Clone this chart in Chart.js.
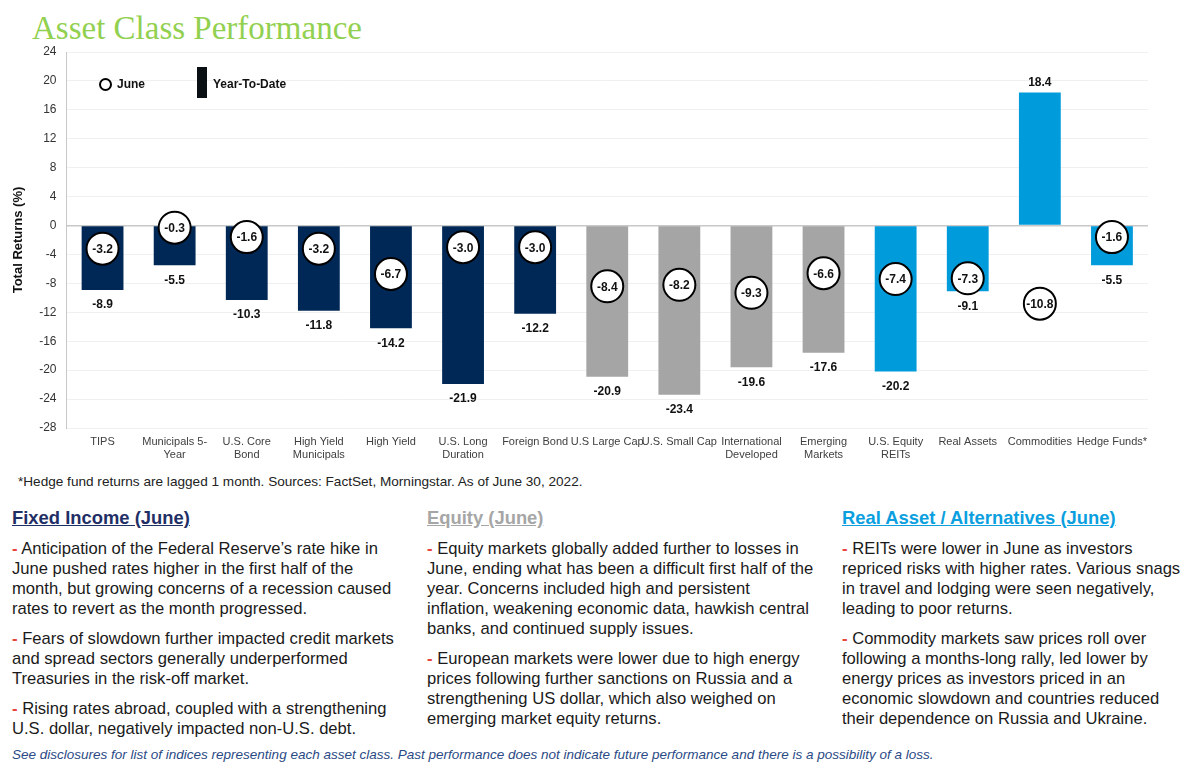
<!DOCTYPE html>
<html>
<head>
<meta charset="utf-8">
<script src="https://cdn.jsdelivr.net/npm/chart.js@4.4.0/dist/chart.umd.min.js"></script>
<style>
  body { margin: 0; width: 1200px; height: 771px; background: #fff; font-family: Arial, "Liberation Sans", sans-serif; position: relative; overflow: hidden; }
  #title { position: absolute; left: 32px; top: 10px; font-family: "Liberation Serif", "DejaVu Serif", serif; font-size: 33px; color: #92d050; white-space: nowrap; }
  #chartBox { position: absolute; left: 0; top: 34px; width: 1200px; height: 438px; }
  .legend { position: absolute; font-size: 12px; font-weight: bold; color: #111; white-space: nowrap; }
  .legCircle { position: absolute; left: 99px; top: 78px; width: 9px; height: 9px; border: 2px solid #000; border-radius: 50%; }
  .legRect { position: absolute; left: 197px; top: 67px; width: 10px; height: 31px; background: #0a0f14; }
  #foot { position: absolute; left: 18px; top: 474px; font-size: 13.6px; color: #222; white-space: nowrap; }
  .col { position: absolute; top: 506px; font-size: 16.6px; line-height: 20px; color: #1a1a1a; white-space: nowrap; }
  .col h3 { margin: 0 0 9px 0; font-size: 18.4px; font-weight: bold; text-decoration: underline; line-height: 24px; }
  .col p { margin: 0 0 10px 0; }
  .dash { color: #e8463c; font-weight: bold; }
  #disc { position: absolute; left: 12px; top: 747px; font-size: 13.5px; font-style: italic; color: #2a4a85; white-space: nowrap; }
</style>
</head>
<body>
<div id="title">Asset Class Performance</div>
<div id="chartBox"><canvas id="perfChart"></canvas></div>
<div class="legCircle"></div>
<div class="legend" style="left:117px; top:77px;">June</div>
<div class="legRect"></div>
<div class="legend" style="left:213px; top:77px;">Year-To-Date</div>

<div id="foot">*Hedge fund returns are lagged 1 month. Sources: FactSet, Morningstar. As of June 30, 2022.</div>

<div class="col" style="left:12px;">
  <h3 style="color:#1f2f66;">Fixed Income (June)</h3>
  <p><span class="dash">-</span> Anticipation of the Federal Reserve’s rate hike in<br>June pushed rates higher in the first half of the<br>month, but growing concerns of a recession caused<br>rates to revert as the month progressed.</p>
  <p><span class="dash">-</span> Fears of slowdown further impacted credit markets<br>and spread sectors generally underperformed<br>Treasuries in the risk-off market.</p>
  <p><span class="dash">-</span> Rising rates abroad, coupled with a strengthening<br>U.S. dollar, negatively impacted non-U.S. debt.</p>
</div>
<div class="col" style="left:427px;">
  <h3 style="color:#a6a6a6;">Equity (June)</h3>
  <p><span class="dash">-</span> Equity markets globally added further to losses in<br>June, ending what has been a difficult first half of the<br>year. Concerns included high and persistent<br>inflation, weakening economic data, hawkish central<br>banks, and continued supply issues.</p>
  <p><span class="dash">-</span> European markets were lower due to high energy<br>prices following further sanctions on Russia and a<br>strengthening US dollar, which also weighed on<br>emerging market equity returns.</p>
</div>
<div class="col" style="left:842px;">
  <h3 style="color:#0b9fe0;">Real Asset / Alternatives (June)</h3>
  <p><span class="dash">-</span> REITs were lower in June as investors<br>repriced risks with higher rates. Various snags<br>in travel and lodging were seen negatively,<br>leading to poor returns.</p>
  <p><span class="dash">-</span> Commodity markets saw prices roll over<br>following a months-long rally, led lower by<br>energy prices as investors priced in an<br>economic slowdown and countries reduced<br>their dependence on Russia and Ukraine.</p>
</div>

<div id="disc">See disclosures for list of indices representing each asset class. Past performance does not indicate future performance and there is a possibility of a loss.</div>

<script>
// categories and values
const categories = [
    'TIPS', ['Municipals 5-', 'Year'], ['U.S. Core', 'Bond'], ['High Yield', 'Municipals'], 'High Yield',
    ['U.S. Long', 'Duration'], 'Foreign Bond', 'U.S Large Cap', 'U.S. Small Cap', ['International', 'Developed'],
    ['Emerging', 'Markets'], ['U.S. Equity', 'REITs'], 'Real Assets', 'Commodities', 'Hedge Funds*'
];
const ytdReturns = [-8.9, -5.5, -10.3, -11.8, -14.2, -21.9, -12.2, -20.9, -23.4, -19.6, -17.6, -20.2, -9.1, 18.4, -5.5];
const juneReturns = [-3.2, -0.3, -1.6, -3.2, -6.7, -3.0, -3.0, -8.4, -8.2, -9.3, -6.6, -7.4, -7.3, -10.8, -1.6];
const assetGroups = ['fixed', 'fixed', 'fixed', 'fixed', 'fixed', 'fixed', 'fixed',
    'equity', 'equity', 'equity', 'equity', 'real', 'real', 'real', 'real'];

const groupColors = { fixed: '#002856', equity: '#a5a5a5', real: '#009bdb' };

// draws the value labels: YTD outside the bar end, June inside the circles
const valueLabels = {
    id: 'valueLabels',
    afterDatasetsDraw(chart) {
        const ctx = chart.ctx;
        ctx.save();
        ctx.textAlign = 'center';
        ctx.textBaseline = 'middle';
        ctx.fillStyle = '#111';
        ctx.font = 'bold 12px Arial, "Liberation Sans", sans-serif';

        chart.getDatasetMeta(1).data.forEach((bar, i) => {
            const v = ytdReturns[i];
            const y = v < 0 ? bar.y + 15 : bar.y - 10;
            ctx.fillText(v.toFixed(1), bar.x, y);
        });
        chart.getDatasetMeta(0).data.forEach((pt, i) => {
            ctx.fillText(juneReturns[i].toFixed(1), pt.x, pt.y + 1);
        });
        ctx.restore();
    }
};

const ctx = document.getElementById('perfChart').getContext('2d');
const perfChart = new Chart(ctx, {
    type: 'bar',
    data: {
        labels: categories,
        datasets: [{
            type: 'line',
            label: 'June',
            data: juneReturns,
            showLine: false,
            pointStyle: 'circle',
            pointRadius: 16,
            pointBackgroundColor: '#fff',
            pointBorderColor: '#000',
            pointBorderWidth: 2,
            order: 0
        }, {
            label: 'Year-To-Date',
            data: ytdReturns,
            backgroundColor: assetGroups.map(g => groupColors[g]),
            categoryPercentage: 1,
            barPercentage: 0.58,
            order: 1
        }]
    },
    options: {
        responsive: true,
        maintainAspectRatio: false,
        animation: false,
        layout: { padding: { top: 11, right: 52, left: 0, bottom: 0 } },
        plugins: {
            legend: { display: false },
            tooltip: { enabled: false }
        },
        scales: {
            x: {
                grid: { display: false, drawTicks: false },
                border: { display: false },
                ticks: {
                    color: '#404040',
                    font: { size: 11, family: 'Arial' },
                    maxRotation: 0,
                    minRotation: 0,
                    autoSkip: false,
                    padding: 7
                },
                afterFit(scale) { scale.height = 44; }
            },
            y: {
                min: -28,
                max: 24,
                ticks: {
                    stepSize: 4,
                    color: '#333',
                    font: { size: 12, family: 'Arial' },
                    padding: 10
                },
                grid: {
                    drawTicks: false,
                    color: ctx => ctx.tick.value === 0 ? '#c8c8c8' : '#f0f0f0',
                    lineWidth: ctx => ctx.tick.value === 0 ? 1.5 : 1
                },
                border: { display: true, color: '#c8c8c8' },
                title: {
                    display: true,
                    text: 'Total Returns (%)',
                    color: '#111',
                    font: { size: 13, weight: 'bold', family: 'Arial' },
                    padding: 11
                },
                afterFit(scale) { scale.width = 66.5; }
            }
        }
    },
    plugins: [valueLabels]
});
</script>
</body>
</html>
